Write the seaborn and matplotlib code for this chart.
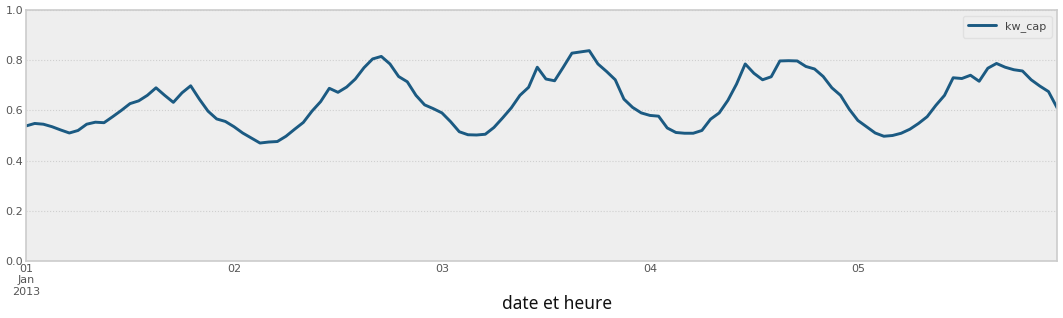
import numpy as np
import pandas as pd
import matplotlib
matplotlib.use("Agg")
import matplotlib.pyplot as plt
import matplotlib.dates as mdates
from matplotlib.ticker import FuncFormatter
import seaborn as sns

start = "2013-01-01 00:00"
kw_cap = [
    0.538, 0.548, 0.545, 0.535, 0.522, 0.510, 0.520, 0.545, 0.553, 0.551,
    0.575, 0.600, 0.627, 0.638, 0.660, 0.690, 0.660, 0.632, 0.670, 0.698,
    0.645, 0.597, 0.566, 0.556, 0.535, 0.510, 0.490, 0.470, 0.474, 0.476,
    0.497, 0.525, 0.552, 0.597, 0.635, 0.688, 0.672, 0.693, 0.725, 0.770,
    0.805, 0.815, 0.785, 0.735, 0.714, 0.660, 0.622, 0.607, 0.590, 0.555,
    0.515, 0.503, 0.502, 0.505, 0.532, 0.570, 0.610, 0.660, 0.692, 0.772,
    0.725, 0.718, 0.772, 0.828, 0.833, 0.838, 0.785, 0.755, 0.722, 0.645,
    0.612, 0.590, 0.580, 0.577, 0.530, 0.512, 0.509, 0.509, 0.520, 0.565,
    0.590, 0.640, 0.705, 0.785, 0.748, 0.722, 0.734, 0.797, 0.798, 0.797,
    0.775, 0.765, 0.735, 0.690, 0.660, 0.605, 0.560, 0.535, 0.510, 0.497,
    0.500, 0.509, 0.525, 0.548, 0.575, 0.620, 0.660, 0.730, 0.727, 0.740,
    0.716, 0.768, 0.787, 0.772, 0.762, 0.757, 0.722, 0.697, 0.675, 0.610,
]
y_ticks = [0.0, 0.2, 0.4, 0.6, 0.8, 1.0]
x_label = "date et heure"
series_name = "kw_cap"

dates = pd.date_range(start, periods=len(kw_cap), freq="h")
df = pd.DataFrame({"date": dates, series_name: kw_cap})

sns.set_theme(style="white")
plt.rcParams["font.family"] = ["DejaVu Sans"]

fig = plt.figure(figsize=(10.63, 3.18), dpi=100)
ax = fig.add_axes([0.0245, 0.1792, 0.9700, 0.7894])
ax.set_facecolor("#eeeeee")

sns.lineplot(data=df, x="date", y=series_name, ax=ax, color="#1b5a82",
             linewidth=2.1, label=series_name)

ax.set_xlim(dates[0], dates[-1])
ax.set_ylim(0, 1.0)
ax.set_yticks(y_ticks)
ax.yaxis.set_major_formatter(FuncFormatter(lambda v, p: f"{v:.1f}"))
ax.grid(axis="y", color="#cfcfcf", linestyle=":", linewidth=0.8)
ax.grid(axis="x", visible=False)

ax.xaxis.set_major_locator(mdates.DayLocator())
def fmt(x, pos):
    d = mdates.num2date(x)
    if d.day == 1:
        return d.strftime("%d\n%b\n%Y")
    return d.strftime("%d")
ax.xaxis.set_major_formatter(FuncFormatter(fmt))

ax.tick_params(axis="both", labelsize=8, colors="#555555", length=0, pad=2)
for lbl in ax.get_xticklabels() + ax.get_yticklabels():
    lbl.set_color("#555555")
for s in ax.spines.values():
    s.set_color("#cccccc")
    s.set_linewidth(1.2)

ax.set_xlabel("")
ax.set_ylabel("")
fig.text(0.524, 0.045, x_label, ha="center", va="center", fontsize=12.5,
         color="#111111", family=["Noto Sans", "DejaVu Sans"])

leg = ax.legend(loc="upper right", fontsize=8, frameon=True, facecolor="#eeeeee",
                edgecolor="#dddddd", handlelength=2.5, borderpad=0.5)
for t in leg.get_texts():
    t.set_color("#444444")

fig.savefig("out.png", dpi=100)
